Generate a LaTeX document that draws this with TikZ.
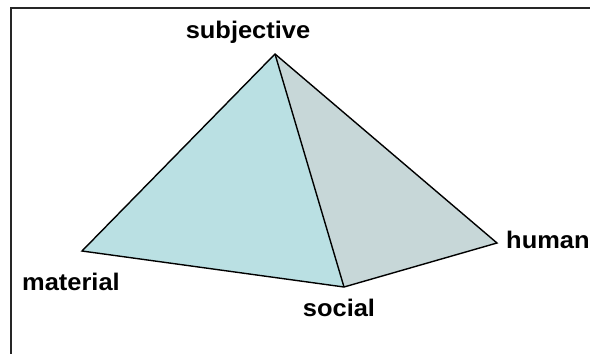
\documentclass[tikz,border=0pt]{standalone}
\usepackage{fontspec}
\setmainfont{Liberation Sans}
\begin{document}
\begin{tikzpicture}[x=1pt,y=-1pt,
  lbl/.style={font=\bfseries\fontsize{24}{24}\selectfont, inner sep=0pt, xscale=1.06},
  edge/.style={draw=black, line width=1.4pt, line join=miter}]
\useasboundingbox (0,0) rectangle (590,354);
\definecolor{faceL}{RGB}{186,224,227}
\definecolor{faceR}{RGB}{199,215,216}
\begin{scope}
\clip (0,0) rectangle (590,354);
\draw[line width=2pt, draw=black!85] (11,8) rectangle (620,380);
\end{scope}
\coordinate (S) at (275,54);
\coordinate (M) at (82,251);
\coordinate (O) at (344,287);
\coordinate (H) at (497,243);
\fill[faceL] (S) -- (M) -- (O) -- cycle;
\fill[faceR] (S) -- (O) -- (H) -- cycle;
\draw[edge] (S) -- (M) -- (O) -- (H) -- cycle;
\draw[edge] (S) -- (O);
\node[lbl, anchor=base] (ts) at (248,38) {subjective};
\node[lbl, anchor=base] (tm) at (71,290) {material};
\node[lbl, anchor=base] (to) at (339,316) {social};
\node[lbl, anchor=base west] (th) at (506,248) {human};
\end{tikzpicture}
\end{document}
